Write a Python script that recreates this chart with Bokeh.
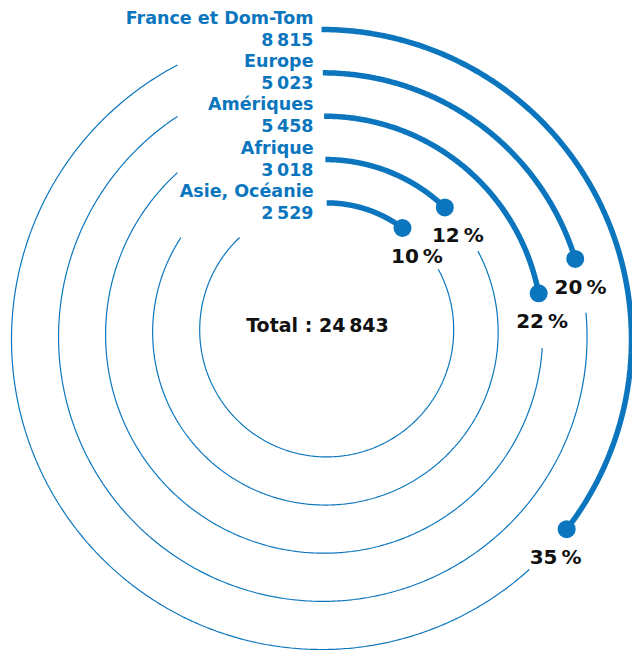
import numpy as np
from bokeh.plotting import figure
from bokeh.models import Range1d
from bokeh.core.properties import value
from bokeh.embed import file_html
from bokeh.resources import INLINE

# ---- data ----
regions = ["France et Dom-Tom", "Europe", "Amériques", "Afrique", "Asie, Océanie"]
counts = [8815, 5023, 5458, 3018, 2529]
percent_labels = [35, 20, 22, 12, 10]
total = 24843

# ---- layout constants ----
W, H = 632, 653
BLUE = "#0b76bd"
FONT = "DejaVu Sans"

def fmt(v):
    return f"{v:,}".replace(",", "\u2009")

p = figure(width=W, height=H, output_backend="svg", toolbar_location=None,
           x_range=Range1d(0, W), y_range=Range1d(H, 0), min_border=0)
p.axis.visible = False
p.grid.visible = False
p.outline_line_color = None
p.background_fill_color = "white"
p.border_fill_color = "white"

dot_x, dot_y, lab_x, lab_y, lab_t = [], [], [], [], []
name_x, name_y, val_y = [], [], []

for k, (name, c) in enumerate(zip(regions, counts)):
    cx = 321 + 1.3 * k
    cy = 339 - 2.4 * k
    r = 310 - 45.75 * k
    frac = c / total
    th_end = frac * 2 * np.pi
    # thick bar
    t = np.linspace(0, th_end, 200)
    p.line(cx + r * np.sin(t), cy - r * np.cos(t), line_color=BLUE, line_width=5.5,
           line_cap="butt")
    # thin track: from after label gap to the label box on the upper left
    th_start = th_end + 55.0 / r
    sx = (177 - cx) / r
    th_x = 2 * np.pi + np.arcsin(sx)
    y_at = cy - r * np.cos(th_x)
    if y_at < 237:
        th_stop = th_x
    else:
        th_stop = 2 * np.pi - np.arccos((cy - 237) / r)
    t2 = np.linspace(th_start, th_stop, 400)
    p.line(cx + r * np.sin(t2), cy - r * np.cos(t2), line_color=BLUE, line_width=1.2)
    ex, ey = cx + r * np.sin(th_end), cy - r * np.cos(th_end)
    dot_x.append(ex); dot_y.append(ey)
    lab_x.append(ex + 18 * np.cos(th_end)); lab_y.append(ey + 28)
    lab_t.append(f"{percent_labels[k]}\u2009%")
    name_x.append(313); name_y.append(cy - r - 12); val_y.append(cy - r + 10)

p.scatter(dot_x, dot_y, size=18, fill_color=BLUE, line_color=None)

p.text(lab_x, lab_y, text=lab_t, text_font=value(FONT), text_font_style="bold",
       text_font_size="20px", text_color="#111111", text_align="center",
       text_baseline="middle")

p.text(name_x, name_y, text=regions, text_font=value(FONT), text_font_style="bold",
       text_font_size="17.5px", text_color=BLUE, text_align="right",
       text_baseline="alphabetic")
p.text(name_x, val_y, text=[fmt(c) for c in counts], text_font=value(FONT),
       text_font_style="bold", text_font_size="17.5px", text_color=BLUE,
       text_align="right", text_baseline="alphabetic")

p.text([317], [324], text=[f"Total : {fmt(total)}"], text_font=value(FONT),
       text_font_style="bold", text_font_size="19px", text_color="#111111",
       text_align="center", text_baseline="middle")

open("out.html", "w").write(file_html(p, INLINE))
